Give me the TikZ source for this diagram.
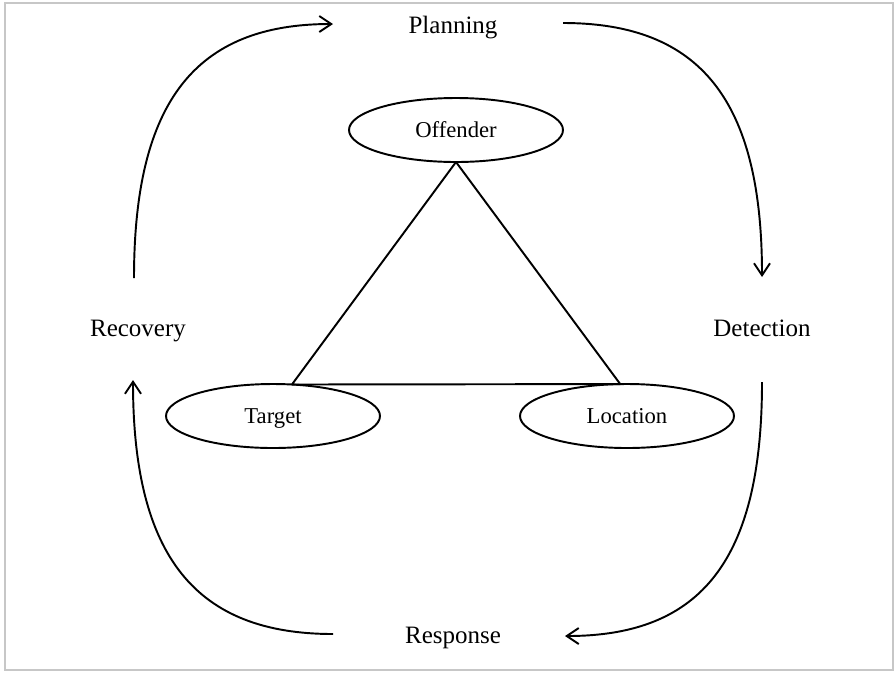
\documentclass[tikz,border=0pt]{standalone}
\usepackage{fontspec}
\setmainfont{Liberation Serif}
\usetikzlibrary{shapes.geometric,arrows.meta}

\begin{document}
\begin{tikzpicture}[x=0.75pt,y=-0.75pt,
  stage/.style={font=\fontsize{18.75}{22}\selectfont, anchor=base, inner sep=0pt},
  actor/.style={draw, ellipse, line width=1.45pt, inner sep=0pt, outer sep=0pt,
    minimum width=160.5pt, minimum height=48pt, text height=12pt, text depth=1.5pt,
    font=\fontsize{17}{20}\selectfont},
  edge/.style={line width=1.45pt, line join=round},
  cyc/.style={line width=1.45pt, -{Straight Barb[length=9pt,width=12pt,line width=1.45pt]}}
]
\useasboundingbox (0,0) rectangle (895,672);
% light frame around the figure
\draw[black!22, line width=1.6pt] (5,3) rectangle (893,670);

% crime triangle
\node[actor] (off) at (456,130) {Offender};
\node[actor] (tgt) at (273,416) {Target};
\node[actor] (loc) at (627,416) {Location};
\draw[edge] (off.south) -- (tgt.59) -- (loc.102) -- cycle;

% cycle stages
\node[stage] (plan) at (453,33) {Planning};
\node[stage] (det)  at (762,336) {Detection};
\node[stage] (resp) at (453,643) {Response};
\node[stage] (rec)  at (138,336) {Recovery};

% arrow end points around the stages
\coordinate (recUp)   at (134,278);
\coordinate (planIn)  at (333,24);
\coordinate (planOut) at (563,23);
\coordinate (detIn)   at (762,277);
\coordinate (detOut)  at (762,382);
\coordinate (respIn)  at (565,636);
\coordinate (respOut) at (333,634);
\coordinate (recIn)   at (133,380);

\draw[cyc] (recUp) .. controls (134,101) and (196,24) .. (planIn);
\draw[cyc] (planOut) .. controls (700,23) and (762,100) .. (detIn);
\draw[cyc] (detOut) .. controls (762,559) and (702,636) .. (respIn);
\draw[cyc] (respOut) .. controls (196,634) and (133,557) .. (recIn);
\end{tikzpicture}
\end{document}
